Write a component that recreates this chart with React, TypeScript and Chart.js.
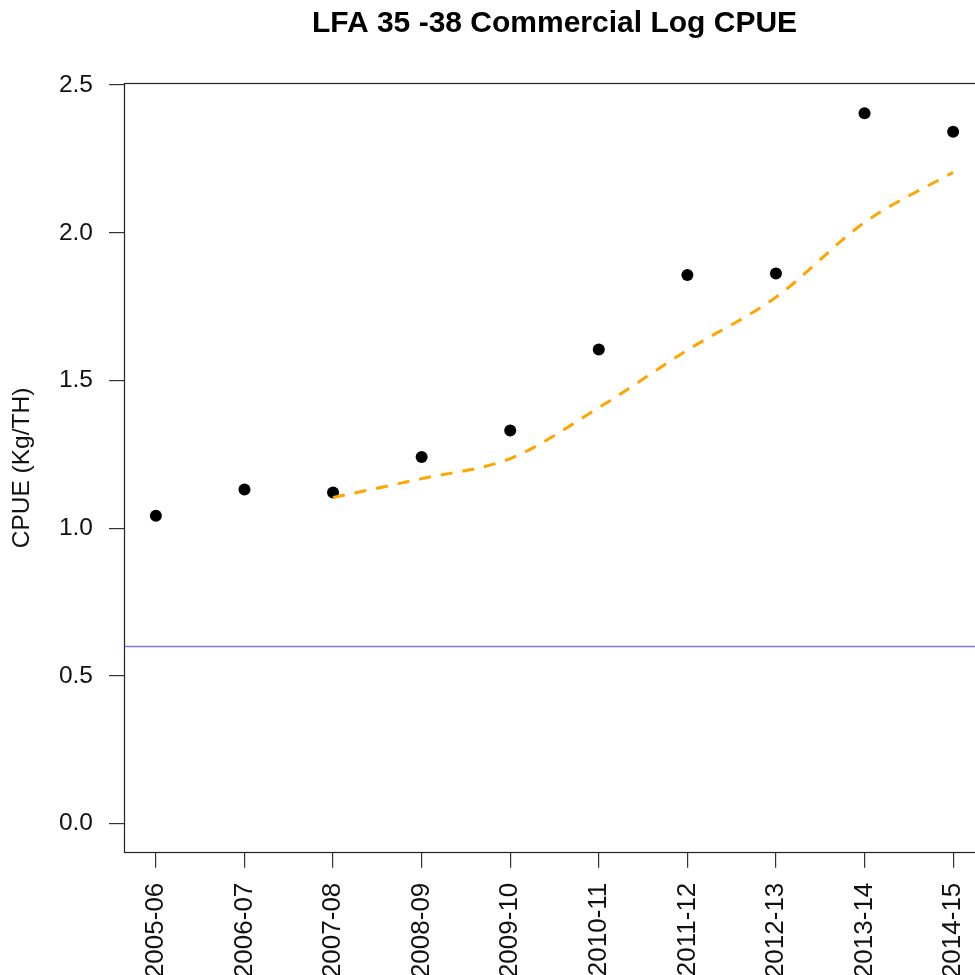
import React, { useEffect, useRef } from "react";
import { Chart, registerables } from "chart.js";

Chart.register(...registerables);

const seasons = [
  "2005-06", "2006-07", "2007-08", "2008-09", "2009-10",
  "2010-11", "2011-12", "2012-13", "2013-14", "2014-15",
];
const cpue = [1.042, 1.131, 1.121, 1.241, 1.331, 1.605, 1.857, 1.862, 2.405, 2.342];
const smoothed = [null, null, 1.104, 1.168, 1.236, 1.408, 1.603, 1.782, 2.035, 2.205];
const referenceLevel = 0.6;
const yTicks = [0, 0.5, 1.0, 1.5, 2.0, 2.5];

const FONT = "'Liberation Sans', Arial, sans-serif";
const W = 1000;
const H = 1000;

const framePlugin = {
  id: "frameAndRef",
  beforeDatasetsDraw(chart: any) {
    const { ctx, chartArea, scales } = chart;
    const y = Math.round(scales.y.getPixelForValue(referenceLevel)) + 0.5;
    ctx.save();
    ctx.strokeStyle = "#7878ff";
    ctx.lineWidth = 1.3;
    ctx.beginPath();
    ctx.moveTo(chartArea.left, y);
    ctx.lineTo(chartArea.right, y);
    ctx.stroke();
    ctx.restore();
  },
  afterDraw(chart: any) {
    const { ctx, chartArea } = chart;
    ctx.save();
    ctx.strokeStyle = "#222";
    ctx.lineWidth = 1.2;
    ctx.strokeRect(
      Math.round(chartArea.left) + 0.5,
      Math.round(chartArea.top) + 0.5,
      Math.round(chartArea.right - chartArea.left),
      Math.round(chartArea.bottom - chartArea.top)
    );
    ctx.restore();
  },
};

export default function App() {
  const ref = useRef<HTMLCanvasElement>(null);

  useEffect(() => {
    if (!ref.current) return;
    const pointData = cpue.map((v, i) => ({ x: i + 1, y: v }));
    const smoothData = smoothed
      .map((v, i) => (v === null ? null : { x: i + 1, y: v }))
      .filter((p) => p !== null) as { x: number; y: number }[];

    const chart = new Chart(ref.current, {
      type: "scatter",
      data: {
        datasets: [
          {
            type: "line",
            label: "Smoothed",
            data: smoothData,
            borderColor: "#FFA500",
            borderWidth: 3,
            borderDash: [12, 10],
            pointRadius: 0,
            fill: false,
            cubicInterpolationMode: "monotone",
          } as any,
          {
            label: "CPUE",
            data: pointData,
            backgroundColor: "#000",
            borderColor: "#000",
            pointRadius: 6,
            borderWidth: 0,
          },
        ],
      },
      options: {
        responsive: false,
        animation: false,
        devicePixelRatio: 1,
        layout: { padding: { left: 0, right: 15, top: 0, bottom: 0 } },
        plugins: {
          legend: { display: false },
          tooltip: { enabled: false },
          title: {
            display: true,
            text: "LFA 35 -38 Commercial Log CPUE",
            fullSize: false,
            color: "#000",
            font: { family: FONT, size: 30, weight: "bold", lineHeight: 1.2 },
            padding: { top: 5.5, bottom: 41.8 },
          },
        },
        scales: {
          x: {
            type: "linear",
            min: 0.64,
            max: 10.36,
            afterBuildTicks: (scale: any) => {
              scale.ticks = seasons.map((_, i) => ({ value: i + 1 }));
            },
            afterFit: (scale: any) => {
              scale.height = H - 852.7;
            },
            ticks: {
              autoSkip: false,
              minRotation: 90,
              maxRotation: 90,
              padding: 15,
              color: "#111",
              font: { family: FONT, size: 26 },
              callback: (v: any) => seasons[Math.round(Number(v)) - 1] ?? "",
            },
            grid: {
              drawOnChartArea: false,
              drawTicks: true,
              tickLength: 15,
              color: "#333",
              lineWidth: 1.2,
            },
            border: { display: false },
          },
          y: {
            type: "linear",
            min: -0.098,
            max: 2.506,
            afterBuildTicks: (scale: any) => {
              scale.ticks = yTicks.map((v) => ({ value: v }));
            },
            afterFit: (scale: any) => {
              scale.width = 124;
            },
            ticks: {
              padding: 16,
              color: "#111",
              font: { family: FONT, size: 24.5 },
              callback: (v: any) => Number(v).toFixed(1),
            },
            grid: {
              drawOnChartArea: false,
              drawTicks: true,
              tickLength: 15,
              color: "#333",
              lineWidth: 1.2,
            },
            border: { display: false },
            title: {
              display: true,
              text: "CPUE (Kg/TH)",
              color: "#111",
              font: { family: FONT, size: 24.5, lineHeight: 1.2 },
              padding: { top: 8, bottom: 0 },
            },
          },
        },
      },
      plugins: [framePlugin],
    });
    return () => chart.destroy();
  }, []);

  return (
    <div
      style={{
        position: "fixed",
        left: 0,
        top: 0,
        width: 975,
        height: 975,
        overflow: "hidden",
        background: "#fff",
      }}
    >
      <canvas ref={ref} width={W} height={H} style={{ position: "absolute", left: 0, top: 0, width: W, height: H }} />
    </div>
  );
}
